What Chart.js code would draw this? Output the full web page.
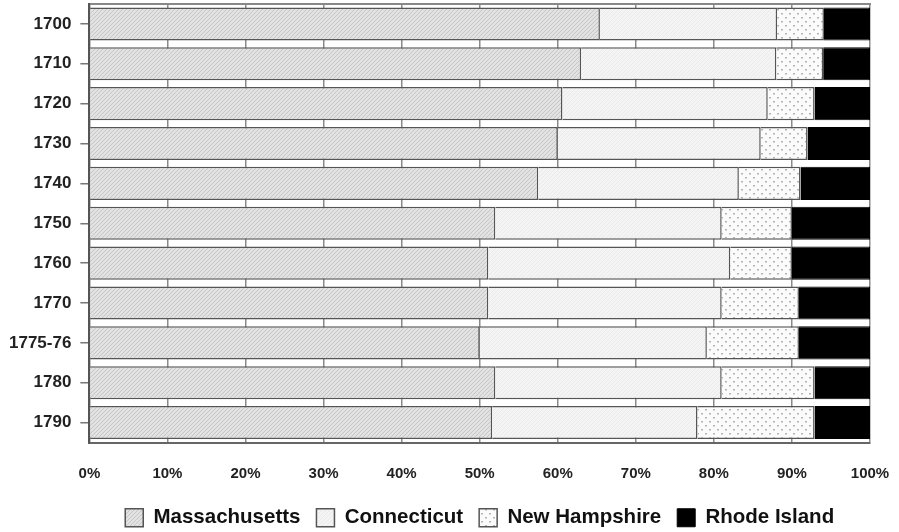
<!DOCTYPE html>
<html>
<head>
<meta charset="utf-8">
<script src="https://cdn.jsdelivr.net/npm/chart.js@4"></script>
<style>
  html, body { margin: 0; padding: 0; background: #fff; }
  #wrap { width: 899px; height: 532px; }
</style>
</head>
<body>
<div id="wrap"><canvas id="myChart" width="899" height="532"></canvas></div>
<script>
//data
const years = ["1700", "1710", "1720", "1730", "1740", "1750", "1760", "1770", "1775-76", "1780", "1790"];
const massachusetts = [65.4, 63.0, 60.6, 60.0, 57.5, 52.0, 51.1, 51.1, 50.0, 52.0, 51.6];
const connecticut = [22.7, 25.0, 26.3, 26.0, 25.7, 29.0, 31.0, 29.9, 29.1, 29.0, 26.3];
const newHampshire = [6.0, 6.0, 6.0, 6.0, 7.9, 9.0, 7.9, 9.9, 11.8, 11.9, 15.0];
const rhodeIsland = [5.9, 6.0, 7.1, 8.0, 8.9, 10.0, 10.0, 9.1, 9.1, 7.1, 7.1];

//fill patterns
function hatch(bg, line) {
  const c = document.createElement('canvas');
  c.width = 4; c.height = 4;
  const g = c.getContext('2d');
  g.fillStyle = bg;
  g.fillRect(0, 0, 4, 4);
  g.strokeStyle = line;
  g.lineWidth = 1;
  g.beginPath();
  g.moveTo(-1, 5); g.lineTo(5, -1);
  g.moveTo(-1, 1); g.lineTo(1, -1);
  g.moveTo(3, 5); g.lineTo(5, 3);
  g.stroke();
  return g.createPattern(c, 'repeat');
}

function dots() {
  const c = document.createElement('canvas');
  c.width = 8; c.height = 8;
  const g = c.getContext('2d');
  g.fillStyle = '#fbfbfb';
  g.fillRect(0, 0, 8, 8);
  g.fillStyle = '#b4b4b4';
  g.fillRect(1, 1, 2, 1.5);
  g.fillRect(5, 5, 2, 1.5);
  return g.createPattern(c, 'repeat');
}

const font = "'Liberation Sans', Arial, Helvetica, sans-serif";

//setup
const data = {
  labels: years,
  datasets: [
    {
      label: "Massachusetts",
      data: massachusetts,
      backgroundColor: hatch('#e2e2e2', '#c6c6c6'),
      borderColor: '#555',
      borderWidth: 1.5,
    },
    {
      label: "Connecticut",
      data: connecticut,
      backgroundColor: hatch('#f4f4f4', '#eaeaea'),
      borderColor: '#555',
      borderWidth: 1.5,
    },
    {
      label: "New Hampshire",
      data: newHampshire,
      backgroundColor: dots(),
      borderColor: '#555',
      borderWidth: 1.5,
    },
    {
      label: "Rhode Island",
      data: rhodeIsland,
      backgroundColor: '#000',
      borderColor: '#000',
      borderWidth: 1,
    },
  ],
};

//options block
const options = {
  indexAxis: 'y',
  responsive: false,
  animation: false,
  categoryPercentage: 1,
  barPercentage: 0.83,
  layout: {
    padding: { left: 0, right: 29, top: 4, bottom: -6 }
  },
  scales: {
    x: {
      stacked: true,
      min: 0,
      max: 100,
      grid: {
        color: '#8a8a8a',
        lineWidth: 1.5,
        drawTicks: true,
        tickLength: 20,
        tickColor: 'rgba(0,0,0,0)',
      },
      border: { color: '#666', width: 2 },
      ticks: {
        stepSize: 10,
        padding: 2,
        color: '#222',
        font: { family: font, size: 15, weight: 'bold' },
        callback: (v) => v + '%',
      },
      afterFit: (scale) => { scale.height += 7; },
    },
    xTop: {
      position: 'top',
      axis: 'x',
      min: 0,
      max: 100,
      grid: { display: false, drawTicks: false },
      border: { color: '#888', width: 2 },
      ticks: { display: false, padding: 0 },
    },
    y: {
      stacked: true,
      grid: {
        offset: false,
        drawOnChartArea: false,
        drawTicks: true,
        tickLength: 9,
        color: '#777',
        lineWidth: 1.5,
      },
      border: { color: '#555', width: 2 },
      ticks: {
        padding: 9,
        color: '#222',
        font: { family: font, size: 17, weight: 'bold' },
      },
      afterFit: (scale) => { scale.paddingTop = 0; scale.paddingBottom = 0; },
    },
  },
  plugins: {
    tooltip: { enabled: false },
    legend: {
      display: true,
      position: 'bottom',
      fullSize: false,
      labels: {
        color: '#111',
        boxWidth: 18,
        boxHeight: 18,
        padding: 16,
        font: { family: font, size: 20.5, weight: 'bold' },
      },
    },
  },
};

//config
const config = {
  type: "bar",
  data,
  options
};

//render
const myChart = new Chart(
  document.getElementById('myChart'),
  config
);
</script>
</body>
</html>
